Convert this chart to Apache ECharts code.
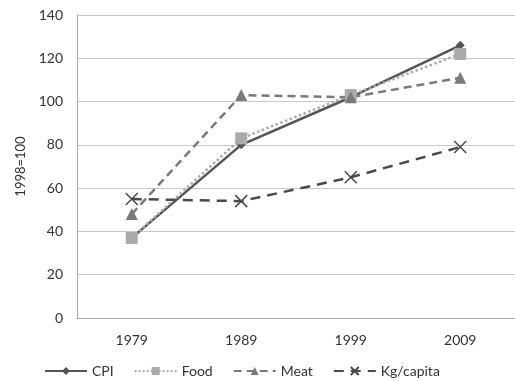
<!DOCTYPE html>
<html><head><meta charset="utf-8">
<script src="https://cdn.jsdelivr.net/npm/echarts@6/dist/echarts.min.js"></script>
<style>html,body{margin:0;padding:0;background:#fff}#c{width:515px;height:381px}</style>
</head><body><div id="c"></div>
<script>
const categories = ['1979','1989','1999','2009'];
const cpi = [37, 80, 102, 126];
const food = [37, 83, 103, 122];
const meat = [48, 103, 102, 111];
const kgCapita = [55, 54, 65, 79];
const yTicks = {min:0, max:140, interval:20};

const font = 'Lato, "Open Sans", sans-serif';
const xSym = 'path://M0,0 L10,10 M10,0 L0,10';
const chart = echarts.init(document.getElementById('c'));
chart.setOption({
  animation:false,
  textStyle:{fontFamily:font},
  grid:{left:77, top:15, width:440, height:303, containLabel:false},
  legend:{top:364, left:44, itemGap:20, itemWidth:42, itemHeight:10, padding:0,
    textStyle:{fontSize:14, color:'#333', fontFamily:font},
    data:['CPI','Food','Meat','Kg/capita']},
  xAxis:{type:'category', data:categories, boundaryGap:true,
    axisLine:{lineStyle:{color:'#aaa'}}, axisTick:{show:false},
    axisLabel:{fontSize:14, color:'#333', margin:15}},
  yAxis:{type:'value', min:yTicks.min, max:yTicks.max, interval:yTicks.interval,
    name:'1998=100', nameLocation:'middle', nameGap:46, nameRotate:90,
    nameTextStyle:{fontSize:13, color:'#333'},
    axisLine:{show:true, lineStyle:{color:'#aaa'}}, axisTick:{show:false},
    splitLine:{lineStyle:{color:'#c8c8c8'}},
    axisLabel:{fontSize:14, color:'#333', margin:14}},
  series:[
    {name:'CPI', type:'line', data:cpi, symbol:'diamond', symbolSize:9,
      lineStyle:{color:'#555', width:2.5}, itemStyle:{color:'#555'}},
    {name:'Food', type:'line', data:food, symbol:'rect', symbolSize:12,
      lineStyle:{color:'#aaa', width:2.5, type:'dotted'}, itemStyle:{color:'#aaa'}},
    {name:'Meat', type:'line', data:meat, symbol:'triangle', symbolSize:12,
      lineStyle:{color:'#7a7a7a', width:2.5, type:[8,5]}, itemStyle:{color:'#7a7a7a'}},
    {name:'Kg/capita', type:'line', data:kgCapita, symbol:xSym, symbolSize:12,
      lineStyle:{color:'#4a4a4a', width:2.5, type:[10,7]},
      itemStyle:{color:'transparent', borderColor:'#4a4a4a', borderWidth:1.5}}
  ]
});
</script></body></html>
